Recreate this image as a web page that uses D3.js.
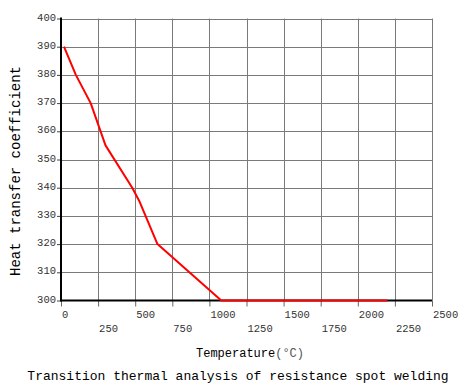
<!DOCTYPE html>
<html>
<head>
<meta charset="utf-8">
<script src="https://cdn.jsdelivr.net/npm/d3@7"></script>
<style>
  body { margin: 0; background: #fff; }
  text { font-family: "Liberation Mono", "DejaVu Sans Mono", monospace; }
</style>
</head>
<body>
<svg id="chart" width="459" height="383"></svg>
<script>
// temperature (C) vs heat transfer coefficient
var temps = [20, 100, 200, 300, 480, 530, 650, 1080, 2200];
var htc   = [390, 380, 370, 355, 340, 335, 320, 300, 300];

var xTicks = [0, 250, 500, 750, 1000, 1250, 1500, 1750, 2000, 2250, 2500];
var yTicks = [300, 310, 320, 330, 340, 350, 360, 370, 380, 390, 400];

var svg = d3.select("#chart");
var m = {left: 61, right: 432, top: 18.5, bottom: 300.5};

var x = d3.scaleLinear().domain([0, 2500]).range([m.left, m.right]);
var y = d3.scaleLinear().domain([300, 400]).range([m.bottom, m.top]);

// grid
var grid = svg.append("g").attr("class", "grid");
grid.selectAll("line.v")
    .data(xTicks.slice(1))
    .enter().append("line")
    .attr("class", "v")
    .attr("x1", function(d) { return Math.round(x(d)) + 0.5; })
    .attr("x2", function(d) { return Math.round(x(d)) + 0.5; })
    .attr("y1", m.top)
    .attr("y2", m.bottom)
    .style("stroke", "#7a7a7a")
    .style("stroke-width", 1);

grid.selectAll("line.h")
    .data(yTicks.slice(1))
    .enter().append("line")
    .attr("class", "h")
    .attr("x1", m.left)
    .attr("x2", m.right)
    .attr("y1", function(d) { return Math.round(y(d)) + 0.5; })
    .attr("y2", function(d) { return Math.round(y(d)) + 0.5; })
    .style("stroke", "#7a7a7a")
    .style("stroke-width", 1);

// axes (custom, library scales drive the positions)
var xAxis = d3.axisBottom(x).tickValues(xTicks).tickSize(6).tickFormat("");
var gx = svg.append("g").attr("transform", "translate(0," + m.bottom + ")").call(xAxis);
gx.select(".domain").remove();
gx.selectAll(".tick line").style("stroke", "#666");

var yAxis = d3.axisLeft(y).tickValues(yTicks).tickSize(4).tickFormat("");
var gy = svg.append("g").attr("transform", "translate(" + m.left + ",0)").call(yAxis);
gy.select(".domain").remove();
gy.selectAll(".tick line").style("stroke", "#444");

// tick labels: x labels alternate rows, left aligned at tick
svg.selectAll("text.xl")
    .data(xTicks)
    .enter().append("text")
    .attr("class", "xl")
    .attr("x", function(d) { return x(d) + 1; })
    .attr("y", function(d, i) { return i % 2 === 0 ? 318 : 332; })
    .style("font-size", "10.5px")
    .style("fill", "#333")
    .text(function(d) { return d; });

svg.selectAll("text.yl")
    .data(yTicks)
    .enter().append("text")
    .attr("class", "yl")
    .attr("x", 56)
    .attr("y", function(d) { return y(d) + 2; })
    .attr("text-anchor", "end")
    .style("font-size", "10.5px")
    .style("fill", "#333")
    .text(function(d) { return d; });

// main axis lines
svg.append("line")
    .attr("x1", m.left).attr("x2", m.left)
    .attr("y1", m.top - 1).attr("y2", m.bottom + 1)
    .style("stroke", "#000").style("stroke-width", 2);
svg.append("line")
    .attr("x1", m.left).attr("x2", m.right)
    .attr("y1", m.bottom).attr("y2", m.bottom)
    .style("stroke", "#000").style("stroke-width", 2);

// data line
var pts = temps.map(function(t, i) { return [t, htc[i]]; });
var line = d3.line()
    .x(function(d) { return x(d[0]); })
    .y(function(d) { return y(d[1]); });

svg.append("path")
    .datum(pts)
    .attr("d", line)
    .style("fill", "none")
    .style("stroke", "#ff0000")
    .style("stroke-width", 2)
    .style("stroke-linejoin", "round");

// titles
var xt = svg.append("text")
    .attr("x", 196)
    .attr("y", 357)
    .style("font-size", "12px")
    .style("fill", "#000");
xt.append("tspan").text("Temperature");
xt.append("tspan").style("fill", "#555").text("(°C)");

svg.append("text")
    .attr("transform", "translate(20,171) rotate(-90)")
    .attr("text-anchor", "middle")
    .style("font-size", "14px")
    .style("fill", "#000")
    .text("Heat transfer coefficient");

svg.append("text")
    .attr("x", 238)
    .attr("y", 380)
    .attr("text-anchor", "middle")
    .style("font-size", "13px")
    .style("fill", "#000")
    .text("Transition thermal analysis of resistance spot welding");
</script>
</body>
</html>
